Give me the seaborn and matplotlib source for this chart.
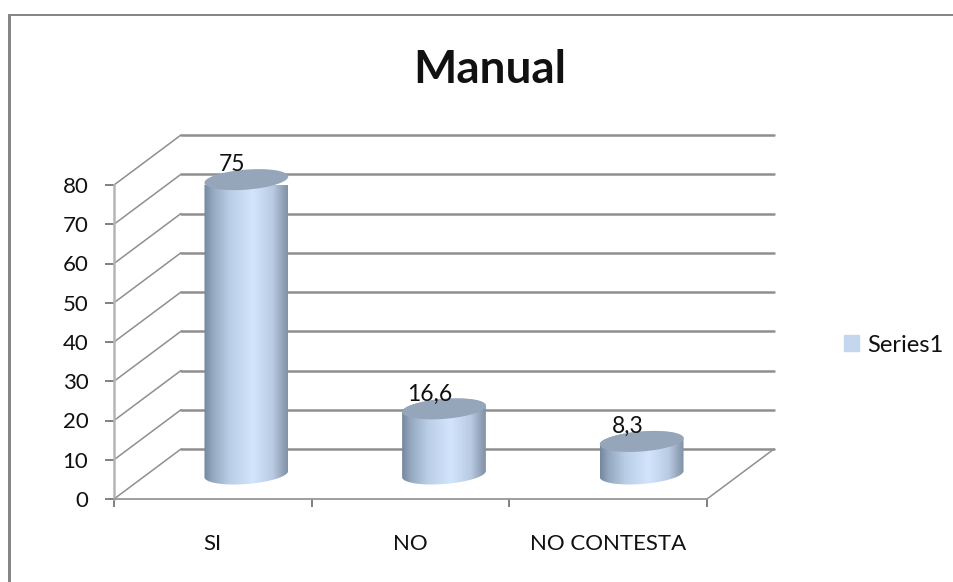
import numpy as np
import pandas as pd
import seaborn as sns
import matplotlib.pyplot as plt
from matplotlib.colors import LinearSegmentedColormap
from matplotlib.patches import Patch, Polygon, Rectangle

# Values
categories = ['SI', 'NO', 'NO CONTESTA']
values = [75, 16.6, 8.3]
value_labels = ['75', '16,6', '8,3']
y_ticks = [0, 10, 20, 30, 40, 50, 60, 70, 80]
series_name = 'Series1'

W, H = 954, 582
sns.set_style('white')
plt.rcParams['font.family'] = ['Lato', 'DejaVu Sans']

fig = plt.figure(figsize=(W / 100, H / 100), dpi=100, facecolor='white')
# front plane of the fake 3d box, in pixels
left, right, top, bottom = 114, 707, 185, 499
ax = fig.add_axes([left / W, 1 - bottom / H, (right - left) / W, (bottom - top) / H])
ax.patch.set_alpha(0)

# data units per pixel
px_x = 3 / (right - left)
px_y = 80 / (bottom - top)
depth_x = 67 * px_x
depth_y = 50 * px_y

df = pd.DataFrame({'category': categories, 'value': values})
sns.barplot(data=df, x='category', y='value', ax=ax, color='#c5d6ef', width=84 * px_x,
            bottom=depth_y / 2, saturation=1, zorder=2)
ax.set_xlabel('')
ax.set_ylabel('')

# walls: lines on the back, diagonals on the side
grid_c = '#8f8f8f'
for v in y_ticks:
    ax.plot([-0.5, -0.5 + depth_x], [v, v + depth_y], color=grid_c, lw=1.1, clip_on=False, zorder=1)
    ax.plot([-0.5 + depth_x, 2.5 + depth_x], [v + depth_y, v + depth_y], color=grid_c, lw=1.8,
            clip_on=False, zorder=1)
ax.plot([2.5, 2.5 + depth_x], [0, depth_y], color=grid_c, lw=1.1, clip_on=False, zorder=1)

# cylinders on top of the bars
shade = LinearSegmentedColormap.from_list('cyl', [(0, '#75879d'), (0.1, '#93a7bf'), (0.3, '#b9cde6'),
                                                  (0.58, '#d2e5fd'), (0.82, '#b9cbe3'), (0.95, '#8f9fb4'),
                                                  (1, '#8292a6')])
gradient = np.linspace(0, 1, 256).reshape(1, -1)
rx, ry, tilt = 42, 10, np.radians(4.5)


def ellipse_xy(cx, cy, t):
    x = rx * np.cos(t) * np.cos(tilt) - ry * np.sin(t) * np.sin(tilt)
    y = rx * np.cos(t) * np.sin(tilt) + ry * np.sin(t) * np.cos(tilt)
    return cx + x * px_x, cy + y * px_y


for bar, label in zip(ax.patches, value_labels):
    bar.set_x(bar.get_x() + depth_x / 2)
    cx = bar.get_x() + bar.get_width() / 2
    y0 = bar.get_y()
    y1 = y0 + bar.get_height()
    xb, yb = ellipse_xy(cx, y0, np.linspace(np.pi, 2 * np.pi, 60))
    xt, yt = ellipse_xy(cx, y1, np.linspace(0, np.pi, 60))
    body = Polygon(np.column_stack([np.r_[xb, xt], np.r_[yb, yt]]), closed=True,
                   transform=ax.transData, facecolor='none', edgecolor='none')
    ax.add_patch(body)
    img = ax.imshow(gradient, cmap=shade, aspect='auto', zorder=3,
                    extent=[bar.get_x(), bar.get_x() + bar.get_width(), y0 - 4, y1 + 4])
    img.set_clip_path(body)
    bar.set_visible(False)
    xe, ye = ellipse_xy(cx, y1, np.linspace(0, 2 * np.pi, 120))
    ax.fill(xe, ye, color='#95a6bb', lw=0, zorder=4, clip_on=False)
    # bar's data label
    ax.text(cx - 14 * px_x, y1 + 15 * px_y, label, ha='center', va='center', fontsize=16.5,
            color='#111111', zorder=5, clip_on=False)

ax.set_xlim(-0.5, 2.5)
ax.set_ylim(0, 80)

# axes and ticks
sns.despine(ax=ax, top=True, right=True)
ax.spines['left'].set_color('#b5b5b5')
ax.spines['left'].set_linewidth(1.8)
ax.spines['bottom'].set_color('#969696')
ax.spines['bottom'].set_linewidth(1.3)
ax.set_yticks(y_ticks)
ax.set_xticks([-0.5, 0.5, 1.5, 2.5], labels=[])
ax.set_xticks([0, 1, 2], labels=categories, minor=True)
ax.tick_params(axis='y', which='major', left=True, length=6.5, width=1.4, color='#808080', labelsize=16,
               pad=12, labelcolor='#111111')
ax.tick_params(axis='x', which='major', bottom=True, length=6, width=1.4, color='#808080')
ax.tick_params(axis='x', which='minor', bottom=False, length=0, pad=25.5, labelsize=16, labelcolor='#111111')

fig.text(490 / W, 1 - 70 / H, 'Manual', ha='center', va='center', fontsize=33, fontweight='bold',
         color='#111111')

fig.legend(handles=[Patch(color='#c5d6ef', label=series_name)], loc='center left', frameon=False,
           bbox_to_anchor=(844 / W, 1 - 345 / H), fontsize=17, borderpad=0, borderaxespad=0,
           handlelength=0.64, handleheight=0.64, handletextpad=0.35, labelcolor='#111111')

# chart frame, only top and left show
frame_c = '#868686'
fig.add_artist(Rectangle((8 / W, 0), 3 / W, 1 - 14 / H, transform=fig.transFigure, color=frame_c, lw=0))
fig.add_artist(Rectangle((8 / W, 1 - 16 / H), 1 - 8 / W, 2 / H, transform=fig.transFigure, color=frame_c, lw=0))

fig.savefig('out.png', dpi=100)
